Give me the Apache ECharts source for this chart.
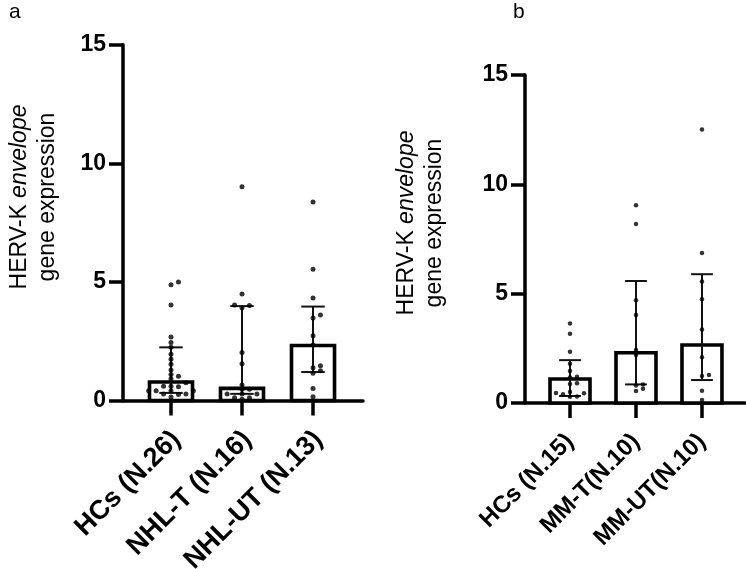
<!DOCTYPE html>
<html><head><meta charset="utf-8">
<script src="https://cdn.jsdelivr.net/npm/echarts@6/dist/echarts.min.js"></script>
<style>html,body{margin:0;padding:0;background:#fff}#c{width:746px;height:569px}</style>
</head><body><div id="c"></div>
<script>
// ---- data ----
const catsA = ['HCs (N.26)', 'NHL-T (N.16)', 'NHL-UT (N.13)'];
const medianA = [0.78, 0.51, 2.32];
const lowA = [0.32, 0.28, 1.2];
const highA = [2.24, 3.98, 3.96];
const ptsA_HCs = [5.0, 4.88, 4.03, 2.68, 2.44, 2.24, 1.95, 1.74, 1.53, 1.29, 1.10, 1.02, 0.92, 0.75, 0.6, 0.6, 0.58, 0.41, 0.41, 0.41, 0.41, 0.41, 0.27, 0.27, 0.25, 0.15];
const ptsA_NHLT = [9.01, 4.49, 4.03, 4.0, 3.91, 2.02, 1.55, 0.65, 0.47, 0.47, 0.27, 0.27, 0.27, 0.12, 0.12, 0.05];
const ptsA_NHLUT = [8.37, 5.53, 4.32, 3.6, 3.48, 2.73, 2.34, 1.47, 1.38, 1.25, 1.15, 0.51, 0.16];

const catsB = ['HCs (N.15)', 'MM-T(N.10)', 'MM-UT(N.10)'];
const medianB = [1.1, 2.3, 2.65];
const lowB = [0.32, 0.85, 1.05];
const highB = [1.96, 5.58, 5.89];
const ptsB_HCs = [3.64, 3.17, 2.34, 1.8, 1.46, 1.2, 1.17, 0.9, 0.87, 0.5, 0.46, 0.45, 0.4, 0.3, 0.29];
const ptsB_MMT = [9.04, 8.19, 4.7, 4.02, 2.42, 2.2, 0.85, 0.8, 0.65, 0.55];
const ptsB_MMUT = [12.51, 6.86, 5.56, 4.75, 3.36, 2.09, 1.28, 1.23, 0.56, 0.14];

const yTicks = [0, 5, 10, 15];

// ---- helpers ----
const FONT = 'Liberation Sans, Arial, sans-serif';
function swarm(values, idx, spacing, thr) {
  const sorted = values.slice().sort((a, b) => a - b);
  const placed = [];
  const slots = [0, 1, -1, 2, -2, 3, -3];
  sorted.forEach(v => {
    for (const s of slots) {
      if (!placed.some(p => p.s === s && Math.abs(p.v - v) < thr)) { placed.push({ v, s }); break; }
    }
  });
  return placed.map(p => [idx + p.s * spacing, p.v]);
}
const BAR_W = 0.606, CAP_W = 0.33;
function barSeries(gi, med) {
  return {
    type: 'custom', xAxisIndex: gi, yAxisIndex: gi, z: 1, silent: true,
    data: med.map((m, i) => [i, m]),
    renderItem: (params, api) => {
      const x = api.value(0), m = api.value(1);
      const p0 = api.coord([x, 0]), p1 = api.coord([x, m]);
      const w = api.size([BAR_W, 0])[0];
      return { type: 'rect', shape: { x: p0[0] - w / 2, y: p1[1], width: w, height: p0[1] - p1[1] },
        style: { fill: '#fff', stroke: '#000', lineWidth: 3.6 } };
    }
  };
}
function errSeries(gi, lo, hi) {
  return {
    type: 'custom', xAxisIndex: gi, yAxisIndex: gi, z: 2, silent: true,
    data: lo.map((l, i) => [i, l, hi[i]]),
    renderItem: (params, api) => {
      const x = api.value(0);
      const a = api.coord([x, api.value(1)]), b = api.coord([x, api.value(2)]);
      const w = api.size([CAP_W, 0])[0];
      const st = { stroke: '#111', lineWidth: 2 };
      return { type: 'group', children: [
        { type: 'line', shape: { x1: a[0], y1: a[1], x2: b[0], y2: b[1] }, style: st },
        { type: 'line', shape: { x1: a[0] - w / 2, y1: a[1], x2: a[0] + w / 2, y2: a[1] }, style: st },
        { type: 'line', shape: { x1: b[0] - w / 2, y1: b[1], x2: b[0] + w / 2, y2: b[1] }, style: st }
      ] };
    }
  };
}
function dotSeries(gi, pts, size) {
  return { type: 'scatter', xAxisIndex: gi, yAxisIndex: gi, z: 3, silent: true,
    symbol: 'circle', symbolSize: size, itemStyle: { color: '#000' }, data: pts };
}
function xAxis(gi, cats, min, max, fs, margin, vAlign, pad) {
  return {
    type: 'value', gridIndex: gi, min, max,
    splitLine: { show: false },
    axisLine: { show: true, onZero: false, lineStyle: { color: '#000', width: 3.5 } },
    axisTick: { show: true, customValues: [0, 1, 2], length: 15, lineStyle: { color: '#000', width: 3.5 } },
    axisLabel: { customValues: [0, 1, 2], formatter: v => cats[Math.round(v)], rotate: 45, margin,
      verticalAlign: vAlign, padding: pad,
      fontFamily: FONT, fontWeight: 'bold', fontSize: fs, color: '#000' }
  };
}
function yAxis(gi) {
  return {
    type: 'value', gridIndex: gi, min: 0, max: 15, interval: 5,
    splitLine: { show: false },
    axisLine: { show: true, onZero: false, lineStyle: { color: '#000', width: 3.5 } },
    axisTick: { show: true, length: 14, lineStyle: { color: '#000', width: 3.5 } },
    axisLabel: { margin: 17, fontFamily: FONT, fontWeight: 'bold', fontSize: 23, color: '#000',
      formatter: v => yTicks.indexOf(v) >= 0 ? String(v) : '' }
  };
}
function yTitle(x, y) {
  return { type: 'text', x, y, rotation: Math.PI / 2, silent: true,
    style: { text: '{n|HERV-K }{i|envelope}\n{n|gene expression}', align: 'center', verticalAlign: 'middle',
      rich: { n: { fontFamily: FONT, fontSize: 23, lineHeight: 28, fill: '#000' },
              i: { fontFamily: FONT, fontStyle: 'italic', fontSize: 23, lineHeight: 28, fill: '#000' } } } };
}

const sA = 0.105, sB = 0.106;
const dotsA = [].concat(swarm(ptsA_HCs, 0, sA, 0.18), swarm(ptsA_NHLT, 1, sA, 0.18), swarm(ptsA_NHLUT, 2, sA, 0.18));
const dotsB = [].concat(swarm(ptsB_HCs, 0, sB, 0.18), swarm(ptsB_MMT, 1, sB, 0.18), swarm(ptsB_MMUT, 2, sB, 0.18));

const chart = echarts.init(document.getElementById('c'), null, { renderer: 'canvas' });
chart.setOption({
  animation: false,
  backgroundColor: '#fff',
  grid: [
    { left: 123, top: 44.7, width: 240, height: 355.8, containLabel: false, outerBoundsMode: 'none' },
    { left: 525, top: 75, width: 220, height: 328, containLabel: false, outerBoundsMode: 'none' }
  ],
  xAxis: [xAxis(0, catsA, -0.676, 2.704, 27, 21, 'top', [0, 6, 0, 0]),
          xAxis(1, catsB, -0.682, 2.652, 24, 35, 'middle', [0, 0, 0, 0])],
  yAxis: [yAxis(0), yAxis(1)],
  series: [
    barSeries(0, medianA), errSeries(0, lowA, highA), dotSeries(0, dotsA, 5),
    barSeries(1, medianB), errSeries(1, lowB, highB), dotSeries(1, dotsB, 4.5)
  ],
  graphic: [
    { type: 'text', left: 9, top: 2, style: { text: 'a', fontFamily: FONT, fontSize: 21, fill: '#000' } },
    { type: 'text', left: 513, top: 2, style: { text: 'b', fontFamily: FONT, fontSize: 21, fill: '#000' } },
    yTitle(34, 197),
    yTitle(421, 223)
  ]
});
</script></body></html>
